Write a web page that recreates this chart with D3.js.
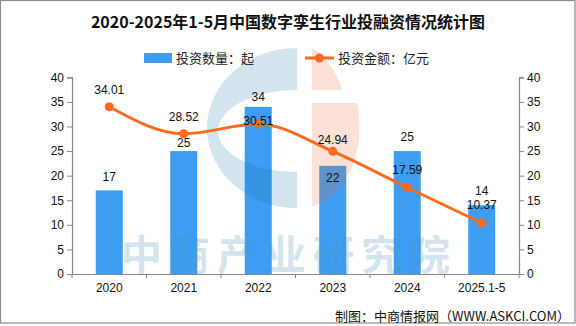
<!DOCTYPE html>
<html><head><meta charset="utf-8">
<script src="https://cdn.jsdelivr.net/npm/d3@7/dist/d3.min.js"></script>
<style>
html,body{margin:0;padding:0;background:#fff;}
svg{display:block;}
text{font-family:"Liberation Sans","Noto Sans CJK SC",sans-serif;}
.cjk{font-family:"Noto Sans CJK SC",sans-serif;}
</style></head>
<body><svg id="c" width="576" height="326"></svg>
<script>
const title = "2020-2025年1-5月中国数字孪生行业投融资情况统计图";
const categories = ["2020","2021","2022","2023","2024","2025.1-5"];
const dealCount = [17,25,34,22,25,14];
const dealAmount = [34.01,28.52,30.51,24.94,17.59,10.37];
const yTicks = [0,5,10,15,20,25,30,35,40];
const seriesNames = ["投资数量：起","投资金额：亿元"];
const source = "制图：中商情报网（WWW.ASKCI.COM）";
const watermark = "中商产业研究院";

// label layout (style): offsets of label centres from mark tops
const barLabelDy = [-14,-8,-10.5,12,-14,-14];
const lineLabelDy = [-17.5,-17.5,-3.7,-12,-17.5,-18.5];

const svg = d3.select("#c");
const pL=72,pR=519,pT=77.3,pB=274;
const barColor="#3d9df2", lineColor="#ff6a1f", axisColor="#888";

svg.append("rect").attr("x",0.5).attr("y",0.5).attr("width",574.5).attr("height",322.5)
  .attr("fill","#fff").attr("stroke","#8c8c8c").attr("stroke-width",1.2);

const x = d3.scaleBand().domain(categories).range([pL,pR]).paddingInner(0).paddingOuter(0);
const y = d3.scaleLinear().domain([0,40]).range([pB,pT]);

// title
svg.append("text").attr("class","cjk").attr("x",288).attr("y",28).attr("text-anchor","middle")
  .attr("font-size",16).attr("font-weight","bold").attr("fill","#111").text(title);

// legend
const lg = svg.append("g");
lg.append("rect").attr("x",144).attr("y",53).attr("width",28).attr("height",10).attr("fill",barColor);
lg.append("text").attr("class","cjk").attr("x",176).attr("y",62.5).attr("font-size",13).attr("fill","#222").text(seriesNames[0]);
lg.append("line").attr("x1",305).attr("x2",334).attr("y1",58).attr("y2",58).attr("stroke",lineColor).attr("stroke-width",3);
lg.append("circle").attr("cx",319.5).attr("cy",58).attr("r",4.5).attr("fill",lineColor);
lg.append("text").attr("class","cjk").attr("x",338).attr("y",62.5).attr("font-size",13).attr("fill","#222").text(seriesNames[1]);

// axes
const yl = svg.append("g").attr("transform",`translate(${pL},0)`)
  .call(d3.axisLeft(y).tickValues(yTicks).tickSize(5).tickPadding(3));
const yr = svg.append("g").attr("transform",`translate(${pR},0)`)
  .call(d3.axisRight(y).tickValues(yTicks).tickSize(5).tickPadding(3));
const xa = svg.append("g").attr("transform",`translate(0,${pB})`)
  .call(d3.axisBottom(x).tickSize(0).tickPadding(9));
const bounds = categories.map(c=>x(c)).concat([pR]);
svg.append("g").selectAll("line").data(bounds).join("line")
  .attr("x1",d=>d).attr("x2",d=>d).attr("y1",pB).attr("y2",pB+4)
  .attr("stroke",axisColor).attr("stroke-width",1);
[yl,yr,xa].forEach(g=>{
  g.selectAll(".domain").attr("stroke",axisColor).attr("stroke-width",1.2);
  g.selectAll(".tick line").attr("stroke",axisColor);
  g.selectAll("text").attr("font-size",12).attr("fill","#111");
});
xa.select(".domain").attr("d",`M${pL},0.5H${pR}`);

// bars
const bw = 27;
svg.append("g").selectAll("rect").data(dealCount).join("rect")
  .attr("x",(d,i)=>x(categories[i])+x.bandwidth()/2-bw/2)
  .attr("y",d=>y(d)).attr("width",bw).attr("height",d=>pB-y(d))
  .attr("fill",barColor);

// watermark logo + text
const wm = svg.append("g");
const cx=297, cy=128;
wm.append("path").attr("fill","rgb(30,120,170)").attr("fill-opacity",0.2).attr("fill-rule","evenodd")
  .attr("d",`M${cx},${cy-80} A90,80 0 0 0 ${cx},${cy+80} Z M${cx},${cy-38} A77,40 0 0 0 ${cx},${cy+44} Z`);
const px=312;
wm.append("path").attr("fill","rgb(235,105,50)").attr("fill-opacity",0.2)
  .attr("d",`M${px},${cy-80} A56,80 0 0 1 ${px+30},${cy-38} L${px},${cy-38} Z M${px},${cy-25} L${px+45},${cy-25} A56,80 0 0 1 ${px},${cy+78} Z`);
wm.append("text").attr("class","cjk").attr("x",121).attr("y",270).attr("font-size",41)
  .attr("font-weight","bold").attr("letter-spacing",7)
  .attr("fill","rgb(79,147,187)").attr("fill-opacity",0.25).text(watermark);

// line
const cxs = (i)=>x(categories[i])+x.bandwidth()/2;
const line = d3.line().x((d,i)=>cxs(i)).y(d=>y(d)).curve(d3.curveMonotoneX);
svg.append("path").datum(dealAmount).attr("d",line).attr("fill","none")
  .attr("stroke",lineColor).attr("stroke-width",3);
svg.append("g").selectAll("circle").data(dealAmount).join("circle")
  .attr("cx",(d,i)=>cxs(i)).attr("cy",d=>y(d)).attr("r",4.5).attr("fill",lineColor);

// labels
svg.append("g").selectAll("text").data(dealCount).join("text")
  .attr("x",(d,i)=>cxs(i)).attr("y",(d,i)=>y(d)+barLabelDy[i]+4.3)
  .attr("text-anchor","middle").attr("font-size",12).attr("fill","#111").text(d=>d);
svg.append("g").selectAll("text").data(dealAmount).join("text")
  .attr("x",(d,i)=>cxs(i)).attr("y",(d,i)=>y(d)+lineLabelDy[i]+4.3)
  .attr("text-anchor","middle").attr("font-size",12).attr("fill","#111").text(d=>d.toFixed(2));

// source
svg.append("text").attr("class","cjk").attr("x",570).attr("y",321).attr("text-anchor","end")
  .attr("font-size",13).attr("fill","#111").text(source);
</script></body></html>
